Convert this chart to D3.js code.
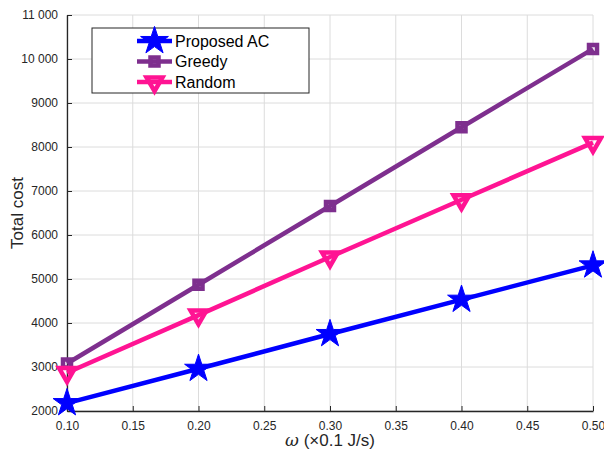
<!DOCTYPE html>
<html>
<head>
<meta charset="utf-8">
<script src="https://cdn.jsdelivr.net/npm/d3@7"></script>
<style>
  body { margin: 0; background: #fff; }
  svg { font-family: "Liberation Sans", Arial, sans-serif; }
  .tick text { fill: #262626; font-size: 12px; }
  .grid line { stroke: #dcdcdc; stroke-width: 1; }
</style>
</head>
<body>
<div id="vis"></div>
<script>
// data
const X_VALUES = [0.10, 0.20, 0.30, 0.40, 0.50];
const PROPOSED = [2180, 2960, 3750, 4530, 5310];
const GREEDY = [3080, 4870, 6660, 8450, 10230];
const RANDOM = [2870, 4180, 5500, 6800, 8100];
const SERIES_NAMES = ["Proposed AC", "Greedy", "Random"];
const X_TICKS = [0.10, 0.15, 0.20, 0.25, 0.30, 0.35, 0.40, 0.45, 0.50];
const Y_TICKS = [2000, 3000, 4000, 5000, 6000, 7000, 8000, 9000, 10000, 11000];

const FRAME_WIDTH = 604;
const FRAME_HEIGHT = 452;
const MARGINS = {left: 67, right: 11, top: 15, bottom: 41};
const VIS_WIDTH = FRAME_WIDTH - MARGINS.left - MARGINS.right;
const VIS_HEIGHT = FRAME_HEIGHT - MARGINS.top - MARGINS.bottom;

const X_SCALE = d3.scaleLinear().domain([0.10, 0.50]).range([0, VIS_WIDTH]);
const Y_SCALE = d3.scaleLinear().domain([2000, 11000]).range([VIS_HEIGHT, 0]);

const FRAME = d3.select("#vis").append("svg")
    .attr("width", FRAME_WIDTH)
    .attr("height", FRAME_HEIGHT);

const G = FRAME.append("g")
    .attr("transform", "translate(" + MARGINS.left + "," + MARGINS.top + ")");

// grid
G.append("g").attr("class", "grid")
    .selectAll("line").data(X_TICKS).enter().append("line")
    .attr("x1", d => X_SCALE(d)).attr("x2", d => X_SCALE(d))
    .attr("y1", 0).attr("y2", VIS_HEIGHT);
G.append("g").attr("class", "grid")
    .selectAll("line").data(Y_TICKS).enter().append("line")
    .attr("x1", 0).attr("x2", VIS_WIDTH)
    .attr("y1", d => Y_SCALE(d)).attr("y2", d => Y_SCALE(d));

// axes
const yFmt = d => d >= 10000 ? d3.format(",")(d).replace(",", " ") : String(d);
const xAxis = G.append("g")
    .attr("transform", "translate(0," + VIS_HEIGHT + ")")
    .call(d3.axisBottom(X_SCALE).tickValues(X_TICKS).tickFormat(d3.format(".2f"))
        .tickSizeInner(-5).tickSizeOuter(0).tickPadding(10));
const yAxis = G.append("g")
    .call(d3.axisLeft(Y_SCALE).tickValues(Y_TICKS).tickFormat(yFmt)
        .tickSizeInner(-5).tickSizeOuter(0).tickPadding(9));
[xAxis, yAxis].forEach(a => {
    a.select(".domain").attr("stroke", "#262626").attr("stroke-width", 1.3);
    a.selectAll(".tick line").attr("stroke", "#262626");
    a.attr("font-size", null).attr("font-family", null);
});

// axis labels
FRAME.append("text")
    .attr("transform", "translate(23," + (MARGINS.top + VIS_HEIGHT / 2) + ") rotate(-90)")
    .attr("text-anchor", "middle")
    .attr("font-size", "17px")
    .attr("fill", "#262626")
    .text("Total cost");
const xLabel = FRAME.append("text")
    .attr("x", MARGINS.left + VIS_WIDTH / 2)
    .attr("y", 446)
    .attr("text-anchor", "middle")
    .attr("font-size", "17px")
    .attr("fill", "#262626");
xLabel.append("tspan").attr("font-style", "italic").attr("font-family", "DejaVu Serif, serif").text("\u03c9");
xLabel.append("tspan").text(" (\u00d70.1 J/s)");

// markers
const star = d3.symbol().type(d3.symbolStar).size(240);
const square = d3.symbol().type(d3.symbolSquare).size(64);
const triDown = d3.symbol().type(d3.symbolTriangle).size(110);

const SERIES = [
    {name: SERIES_NAMES[0], values: PROPOSED, color: "#0000ff", marker: star, rot: 0, fillMarker: true},
    {name: SERIES_NAMES[1], values: GREEDY, color: "#7e2f8e", marker: square, rot: 0, fillMarker: false},
    {name: SERIES_NAMES[2], values: RANDOM, color: "#ff1493", marker: triDown, rot: 180, fillMarker: false}
];

const line = d3.line().x(d => X_SCALE(d[0])).y(d => Y_SCALE(d[1]));

SERIES.forEach(s => {
    const pts = X_VALUES.map((x, i) => [x, s.values[i]]);
    G.append("path")
        .datum(pts)
        .attr("d", line)
        .attr("fill", "none")
        .attr("stroke", s.color)
        .attr("stroke-width", 4.5);
    G.selectAll(null).data(pts).enter().append("path")
        .attr("d", s.marker)
        .attr("transform", d => "translate(" + X_SCALE(d[0]) + "," + Y_SCALE(d[1]) + ") rotate(" + s.rot + ")")
        .attr("fill", s.fillMarker ? s.color : "none")
        .attr("stroke", s.color)
        .attr("stroke-width", s.fillMarker ? 1 : 4.5)
        .attr("stroke-linejoin", "miter");
});

// legend
const LEG = FRAME.append("g").attr("transform", "translate(92,28)");
LEG.append("rect")
    .attr("width", 217).attr("height", 65)
    .attr("fill", "#fff").attr("stroke", "#262626").attr("stroke-width", 1);
SERIES.forEach((s, i) => {
    const y = 13 + i * 20.5;
    LEG.append("line")
        .attr("x1", 45).attr("x2", 80).attr("y1", y).attr("y2", y)
        .attr("stroke", s.color).attr("stroke-width", 4.5);
    LEG.append("path")
        .attr("d", s.marker)
        .attr("transform", "translate(62.5," + y + ") rotate(" + s.rot + ")")
        .attr("fill", s.fillMarker ? s.color : "none")
        .attr("stroke", s.color)
        .attr("stroke-width", s.fillMarker ? 1 : 4.5);
    LEG.append("text")
        .attr("x", 83).attr("y", y + 5.5)
        .attr("font-size", "16px")
        .attr("fill", "#000")
        .text(s.name);
});
</script>
</body>
</html>
